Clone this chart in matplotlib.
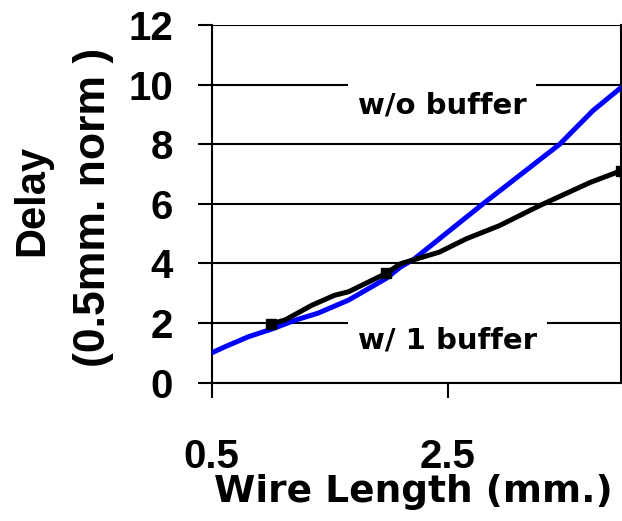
import matplotlib
matplotlib.use("Agg")
import matplotlib.pyplot as plt

plt.rcParams['font.family'] = ['Liberation Sans', 'DejaVu Sans']
plt.rcParams['font.weight'] = 'bold'

# wire length (mm) vs delay
x_nobuf = [0.5, 0.61, 0.81, 1.01, 1.21, 1.40, 1.66, 1.98, 2.10, 2.22, 2.80, 3.45, 3.73, 3.97]
y_nobuf = [1.0, 1.20, 1.54, 1.80, 2.10, 2.33, 2.77, 3.50, 3.88, 4.16, 6.00, 8.00, 9.12, 9.90]

x_buf = [1.0, 1.12, 1.35, 1.54, 1.66, 1.98, 2.10, 2.43, 2.66, 2.94, 3.28, 3.71, 3.97]
y_buf = [1.97, 2.10, 2.60, 2.93, 3.05, 3.67, 3.99, 4.38, 4.83, 5.27, 5.94, 6.72, 7.11]

# buffer insertion points (square markers)
x_mark = [1.0, 1.98, 3.97]
y_mark = [1.97, 3.67, 7.11]

yticks = [0, 2, 4, 6, 8, 10, 12]
xticks = [0.5, 2.5]

fig = plt.figure(figsize=(6.22, 5.21), dpi=100)
ax = fig.add_axes([0.3404, 0.2655, 0.658, 0.6865])

ax.plot(x_nobuf, y_nobuf, color="#0000ff", linewidth=3.6, zorder=3)
ax.plot(x_buf, y_buf, color="black", linewidth=3.6, zorder=4)
ax.plot(x_mark, y_mark, "s", color="black", markersize=7, zorder=5)

ax.set_xlim(0.5, 3.97)
ax.set_ylim(0, 12)
ax.set_xticks(xticks)
ax.set_xticklabels(["0.5", "2.5"])
ax.set_yticks(yticks)

ax.yaxis.grid(True, color="black", linewidth=1.5)
ax.set_axisbelow(True)
ax.spines["top"].set_visible(False)
for s in ["left", "bottom", "right"]:
    ax.spines[s].set_linewidth(1.5)

ax.tick_params(axis="y", direction="out", length=10, width=1.5, pad=18, labelsize=29)
ax.tick_params(axis="x", direction="out", length=11, width=1.5, pad=29, labelsize=29)

# labels on the lines, white box breaks the gridline
wide = ['DejaVu Sans']
ax.text(2.456, 9.02, "w/o buffer", fontsize=21, fontweight="bold", family=wide,
        ha="center", va="baseline", bbox=dict(facecolor="white", edgecolor="none", pad=7))
ax.text(2.498, 1.15, "w/ 1 buffer", fontsize=21, fontweight="bold", family=wide,
        ha="center", va="baseline", bbox=dict(facecolor="white", edgecolor="none", pad=7))

ax.set_xlabel("Wire Length (mm.)", fontsize=27, fontweight="bold", family=wide)
ax.xaxis.set_label_coords(0.492, -0.255)

fig.text(43 / 622, 1 - 200 / 521, "Delay", rotation=90, rotation_mode="anchor",
         fontsize=30, fontweight="bold", ha="center", va="baseline")
fig.text(105 / 622, 1 - 207 / 521, "(0.5mm. norm )", rotation=90, rotation_mode="anchor",
         fontsize=32, fontweight="bold", ha="center", va="baseline")

fig.savefig("out.png", dpi=100)
